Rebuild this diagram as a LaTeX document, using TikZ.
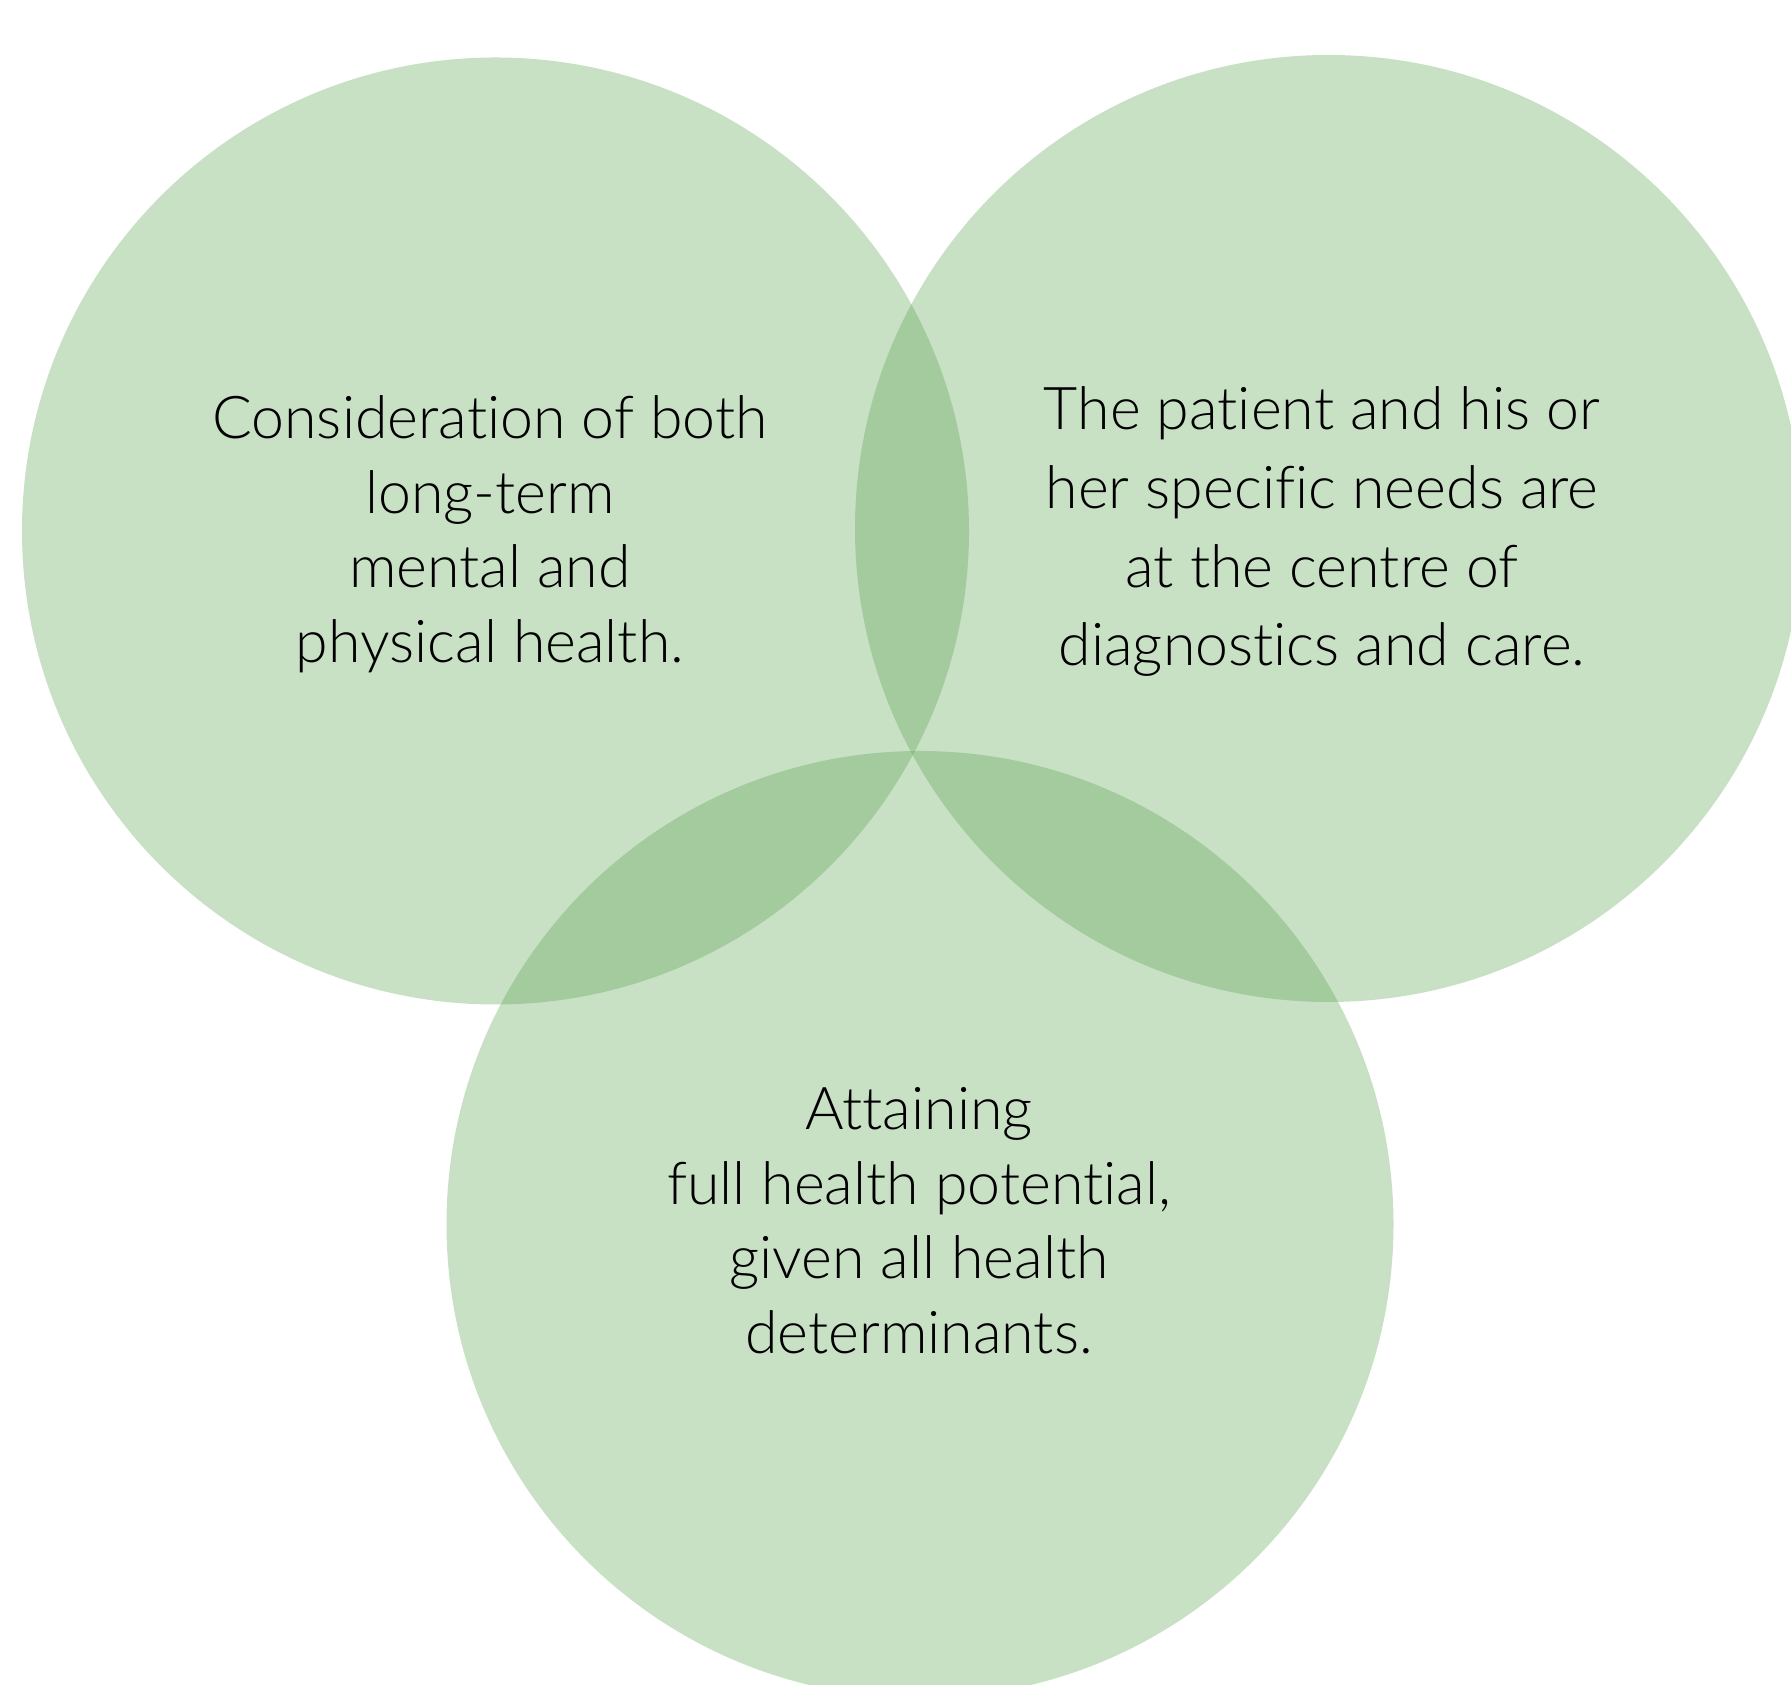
\documentclass[tikz,border=0pt]{standalone}
\usepackage{fontspec}
\setmainfont{Lato Light}[Ligatures={NoCommon}]
\definecolor{venngreen}{RGB}{96,165,87}
\tikzset{
  venn/.style={circle, inner sep=0pt, minimum size=947pt, fill=venngreen, fill opacity=0.35},
  label/.style={align=center, inner sep=0pt, anchor=base, text=black, font=\fontsize{59}{74.6}\selectfont},
}
\begin{document}
\begin{tikzpicture}[x=1pt,y=1pt]
\useasboundingbox (0,0) rectangle (1791,1684);
\clip (0,0) rectangle (1791,1684);
\node[venn] (cl) at (495.5,1153) {};
\node[venn] (cr) at (1328.5,1155.5) {};
\node[venn] (cb) at (920,459.5) {};
\node[label] (tl) at (490,1021.5) {Consideration of both\\long-term\hspace{12pt}\\mental and\\physical health.};
\node[label, font=\fontsize{59}{78.8}\selectfont] (tr) at (1322,1018) {The patient and his or\\her specific needs are\\at the centre of\\diagnostics and care.};
\node[label] (tb) at (919,330.5) {Attaining\\full health potential,\\given all health\\determinants.};
\end{tikzpicture}
\end{document}
